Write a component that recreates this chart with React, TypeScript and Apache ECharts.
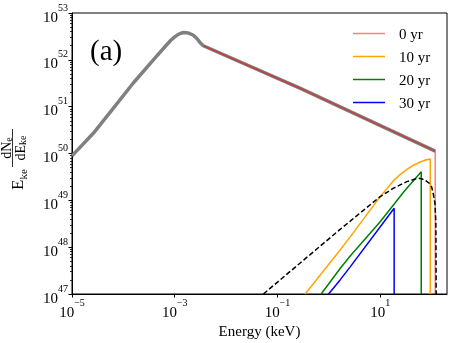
import React, { useEffect, useRef } from 'react';
import * as echarts from 'echarts';

const FONT = "'Liberation Serif', 'DejaVu Serif', serif";

// Tick values
const xTickValues = [1e-5, 1e-3, 1e-1, 1e1];
const yTickValues = [1e47, 1e48, 1e49, 1e50, 1e51, 1e52, 1e53];
const yMinorMantissas = [2, 3, 4, 5, 6, 7, 8, 9];
const yMinorDecades = [1e47, 1e48, 1e49, 1e50, 1e51, 1e52];

// Legend names
const legendNames = ['0 yr', '10 yr', '20 yr', '30 yr'];

// Thick gray curve (injected spectrum)
const grayE = [1e-5, 2.6e-5, 6.4e-5, 1.56e-4, 3.84e-4, 6.98e-4, 8.5e-4, 1.0e-3, 1.15e-3, 1.32e-3, 1.5e-3, 1.7e-3, 1.95e-3, 2.31e-3, 2.7e-3, 3.1e-3, 3.6e-3, 0.28, 118];
const grayY = [8.9e49, 2.7e50, 9.3e50, 3.2e51, 1.0e52, 2.1e52, 2.65e52, 3.1e52, 3.45e52, 3.7e52, 3.82e52, 3.8e52, 3.65e52, 3.35e52, 2.85e52, 2.35e52, 2.0e52, 2.45e51, 1.12e50];

// 0 yr
const yr0E = [3.6e-3, 0.28, 118, 118];
const yr0Y = [2.0e52, 2.45e51, 1.12e50, 1e47];

// 10 yr
const yr10E = [0.346, 1.66, 2.61, 10, 18.2, 24.5, 33.1, 44.7, 60.3, 75.9, 94.4, 94.4];
const yr10Y = [1e47, 8.7e47, 1.66e48, 1.2e49, 2.63e49, 3.55e49, 4.57e49, 5.62e49, 6.6e49, 7.24e49, 7.6e49, 1e47];

// 20 yr
const yr20E = [0.71, 1.66, 2.61, 10, 30, 63, 63];
const yr20Y = [1e47, 3.5e47, 6.5e47, 3.5e48, 1.6e49, 4.1e49, 1e47];

// 30 yr
const yr30E = [0.99, 1.66, 2.61, 18.7, 18.7];
const yr30Y = [1e47, 2.0e47, 3.8e47, 6.8e48, 1e47];

// Dashed black curve
const dashE = [0.0533, 1.66, 2.61, 10, 18.2, 33.1, 48.1, 60.3, 75.3, 91.4, 100, 106.4, 112, 116.4, 119, 121.6, 123];
const dashY = [1e47, 2.4e48, 3.6e48, 1.2e49, 1.82e49, 2.51e49, 2.85e49, 2.95e49, 2.69e49, 2.29e49, 1.95e49, 1.51e49, 1.1e49, 8.7e48, 5.5e48, 3.2e48, 1e47];

const zip = (xs: number[], ys: number[]) => xs.map((x, i) => [x, ys[i]]);

const powLabel = (v: number) => {
  const e = Math.round(Math.log10(v));
  const s = e < 0 ? '\u2212' + Math.abs(e) : String(e);
  return `{b|10}{s|${s}}`;
};

const richLabel = {
  b: { fontFamily: FONT, fontSize: 15, lineHeight: 22, verticalAlign: 'bottom', color: '#000' },
  s: { fontFamily: FONT, fontSize: 10, lineHeight: 10, verticalAlign: 'top', color: '#000' },
};

export default function App() {
  const ref = useRef<HTMLDivElement>(null);
  useEffect(() => {
    if (!ref.current) return;
    const chart = echarts.init(ref.current, undefined, { renderer: 'svg' });
    const yMinor: number[] = [];
    yMinorDecades.forEach((d) => yMinorMantissas.forEach((m) => yMinor.push(m * d)));

    const line = (name: string, data: number[][], color: string, width: number, extra: any = {}) => ({
      name,
      type: 'line',
      data,
      symbol: 'none',
      silent: true,
      clip: true,
      lineStyle: { color, width, ...extra },
      itemStyle: { color },
    });

    const fracRich = {
      a: { fontFamily: FONT, fontSize: 14, fill: '#000', verticalAlign: 'bottom', lineHeight: 16 },
      b: { fontFamily: FONT, fontSize: 10, fill: '#000', verticalAlign: 'bottom', lineHeight: 12 },
    };

    chart.setOption({
      animation: false,
      grid: { left: 72, right: 6, top: 13, bottom: 49, show: true, borderColor: '#000', borderWidth: 1, containLabel: false, outerBoundsMode: 'none' },
      legend: {
        data: legendNames.map((n) => ({ name: n, icon: 'rect' })),
        orient: 'vertical',
        left: 348,
        top: 20,
        itemWidth: 32,
        itemHeight: 1.5,
        itemGap: 6,
        textStyle: { fontFamily: FONT, fontSize: 15, color: '#000', padding: [0, 0, 0, 9], lineHeight: 17 },
        selectedMode: false,
      },
      xAxis: {
        type: 'log',
        logBase: 10,
        min: 1e-5,
        max: 200,
        axisLine: { show: true, lineStyle: { color: '#000', width: 1 } },
        axisTick: { show: true, length: 3.5, lineStyle: { color: '#000', width: 1 }, customValues: xTickValues },
        axisLabel: { customValues: xTickValues, formatter: powLabel, rich: richLabel, margin: 3, color: '#000' },
        splitLine: { show: false },
        minorTick: { show: false },
        name: 'Energy (keV)',
        nameLocation: 'middle',
        nameGap: 28,
        nameTextStyle: { fontFamily: FONT, fontSize: 15, color: '#000' },
      },
      yAxis: [
        {
          type: 'log',
          logBase: 10,
          min: 1e47,
          max: 1e53,
          axisLine: { show: true, lineStyle: { color: '#000', width: 1 } },
          axisTick: { show: true, length: 3.5, lineStyle: { color: '#000', width: 1 }, customValues: yTickValues },
          axisLabel: { customValues: yTickValues, formatter: powLabel, rich: richLabel, margin: 4, color: '#000' },
          splitLine: { show: false },
        },
        {
          type: 'log',
          logBase: 10,
          min: 1e47,
          max: 1e53,
          position: 'left',
          axisLine: { show: false },
          axisTick: { show: true, length: 2, lineStyle: { color: '#000', width: 0.8 }, customValues: yMinor },
          axisLabel: { show: false },
          splitLine: { show: false },
        },
      ],
      series: [
        line('total', zip(grayE, grayY), '#808080', 3.5),
        line('0 yr', zip(yr0E, yr0Y), 'rgba(255,0,0,0.5)', 1.5),
        line('10 yr', zip(yr10E, yr10Y), '#FFA500', 1.5),
        line('20 yr', zip(yr20E, yr20Y), '#008000', 1.5),
        line('30 yr', zip(yr30E, yr30Y), '#0000FF', 1.5),
        line('dashed', zip(dashE, dashY), '#000000', 1.5, { type: [5, 2.5] }),
      ],
      graphic: [
        {
          type: 'text',
          x: 90,
          y: 50,
          style: { text: '(a)', font: `29px ${FONT}`, fill: '#000', textVerticalAlign: 'middle', textAlign: 'left' },
        },
        {
          type: 'group',
          x: 23,
          y: 190,
          rotation: Math.PI / 2,
          children: [
            { type: 'text', x: 0, y: -5.5, style: { text: 'E', font: `17px ${FONT}`, fill: '#000', textVerticalAlign: 'middle', textAlign: 'left' } },
            { type: 'text', x: 10.5, y: 0, style: { text: 'ke', font: `11px ${FONT}`, fill: '#000', textVerticalAlign: 'middle', textAlign: 'left' } },
            { type: 'line', shape: { x1: 23, y1: -10.5, x2: 61, y2: -10.5 }, style: { stroke: '#000', lineWidth: 0.8 } },
            { type: 'text', x: 42, y: -17.5, style: { text: '{a|dN}{b|e}', textAlign: 'center', textVerticalAlign: 'middle', rich: fracRich } },
            { type: 'text', x: 42, y: -3.5, style: { text: '{a|dE}{b|ke}', textAlign: 'center', textVerticalAlign: 'middle', rich: fracRich } },
          ],
        },
      ],
    });
    return () => chart.dispose();
  }, []);
  return <div ref={ref} style={{ position: 'fixed', left: 0, top: 0, width: 453, height: 343 }} />;
}
